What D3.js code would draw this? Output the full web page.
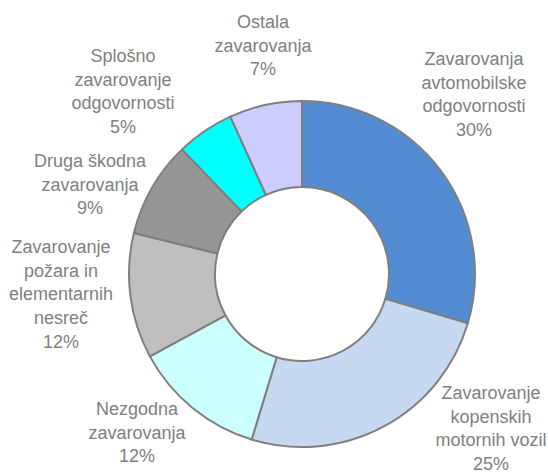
<!DOCTYPE html>
<html>
<head>
<meta charset="utf-8">
<script src="https://cdn.jsdelivr.net/npm/d3@7/dist/d3.min.js"></script>
<style>
  body { margin: 0; background: #fff; }
  svg { display: block; }
  .lbl { font-family: "Liberation Sans", Arial, sans-serif; font-size: 18px; fill: #808080; }
</style>
</head>
<body>
<div id="chart"></div>
<script>
// data
var categories = [
  ['Zavarovanja', 'avtomobilske', 'odgovornosti'],
  ['Zavarovanje', 'kopenskih', 'motornih vozil'],
  ['Nezgodna', 'zavarovanja'],
  ['Zavarovanje', 'požara in', 'elementarnih', 'nesreč'],
  ['Druga škodna', 'zavarovanja'],
  ['Splošno', 'zavarovanje', 'odgovornosti'],
  ['Ostala', 'zavarovanja']
];
var shares = [29.6, 25.1, 12.4, 11.7, 9.0, 5.4, 6.8];
var colors = ['#538cd3', '#c6d9f1', '#ccffff', '#bfbfbf', '#969696', '#00ffff', '#ccccff'];

// layout
var w = 548, h = 475;
var cx = 302, cy = 274;
var outerR = 173, innerR = 87;
var lineH = 23.7;
// label anchor (centre x, first baseline) relative to pie centre
var labelOffset = [[172, -209], [189, 125], [-165, 141], [-241, -21], [-212, -107], [-179, -212], [-39, -246]];

var svg = d3.select('#chart').append('svg')
  .attr('width', w)
  .attr('height', h);

var pie = d3.pie().sort(null).value(function (d) { return d; });
var arc = d3.arc().innerRadius(innerR).outerRadius(outerR);

var g = svg.append('g').attr('transform', 'translate(' + cx + ',' + cy + ')');

g.selectAll('path')
  .data(pie(shares))
  .enter()
  .append('path')
  .attr('d', arc)
  .attr('fill', function (d, i) { return colors[i]; })
  .attr('stroke', '#7f7f7f')
  .attr('stroke-width', 2)
  .attr('stroke-linejoin', 'round');

var pct = d3.format('.0f');

var labels = g.selectAll('text')
  .data(pie(shares))
  .enter()
  .append('text')
  .attr('class', 'lbl')
  .attr('text-anchor', 'middle')
  .attr('x', function (d, i) { return labelOffset[i][0]; })
  .attr('y', function (d, i) { return labelOffset[i][1]; });

labels.each(function (d, i) {
  var lines = categories[i].concat([pct(d.value) + '%']);
  var t = d3.select(this);
  lines.forEach(function (s, k) {
    t.append('tspan')
      .attr('x', labelOffset[i][0])
      .attr('dy', k === 0 ? 0 : lineH)
      .text(s);
  });
});
</script>
</body>
</html>
